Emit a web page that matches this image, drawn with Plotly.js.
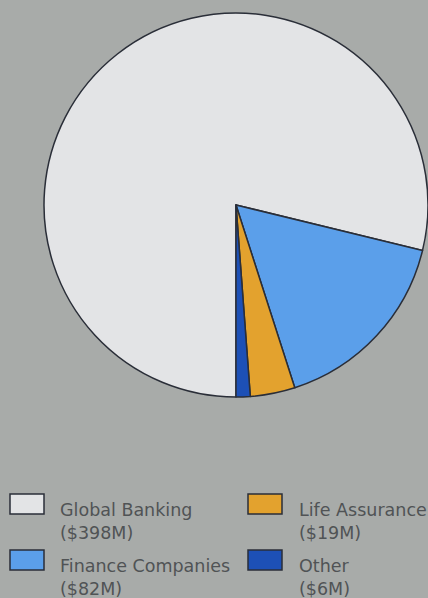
<!DOCTYPE html>
<html>
<head>
<meta charset="utf-8">
<script src="https://cdn.plot.ly/plotly-3.0.1.min.js"></script>
<style>
html,body{margin:0;padding:0;background:#a8aba9;}
#chart{width:428px;height:598px;}
</style>
</head>
<body>
<div id="chart"></div>
<script>
// Data
const categories = ["Global Banking", "Finance Companies", "Life Assurance", "Other"];
const values = [398, 82, 19, 6];
const valueLabels = ["($398M)", "($82M)", "($19M)", "($6M)"];
const colors = ["#e3e4e6", "#5b9fea", "#e3a22e", "#1d50b6"];

// Legend layout: column/row for each category (reference order)
const legendCol = [0, 0, 1, 1];
const legendRow = [0, 1, 0, 1];

const W = 428, H = 598;
const px = x => x / W;
const py = y => 1 - y / H;

const shapes = [];
const annotations = [];
const colBoxX = [10, 248];
const colTextX = [58, 297];
const rowBoxY = [494, 550];
const rowTextY = [521, 577];

categories.forEach((c, i) => {
  const col = legendCol[i], row = legendRow[i];
  shapes.push({
    type: "rect", xref: "paper", yref: "paper",
    x0: px(colBoxX[col]), x1: px(colBoxX[col] + 34),
    y0: py(rowBoxY[row]), y1: py(rowBoxY[row] + 20),
    fillcolor: colors[i],
    line: {color: "#2a2e38", width: 1.5}
  });
  annotations.push({
    xref: "paper", yref: "paper",
    x: px(colTextX[col]), y: py(rowTextY[row]),
    xanchor: "left", yanchor: "middle", align: "left",
    showarrow: false,
    text: c + "<br>" + valueLabels[i],
    font: {family: "DejaVu Sans, sans-serif", size: 17.5, color: "#505355"}
  });
});

const trace = {
  type: "pie",
  labels: categories,
  values: values,
  sort: false,
  direction: "clockwise",
  rotation: 180,
  textinfo: "none",
  hoverinfo: "label+value",
  showlegend: false,
  marker: {colors: colors, line: {color: "#2a2e38", width: 1.5}},
  domain: {x: [px(44), 1], y: [py(398), py(12)]}
};

const layout = {
  width: W, height: H,
  margin: {l: 0, r: 0, t: 0, b: 0},
  paper_bgcolor: "#a8aba9",
  plot_bgcolor: "#a8aba9",
  showlegend: false,
  shapes: shapes,
  annotations: annotations
};

Plotly.newPlot("chart", [trace], layout, {displayModeBar: false, staticPlot: true});
</script>
</body>
</html>
